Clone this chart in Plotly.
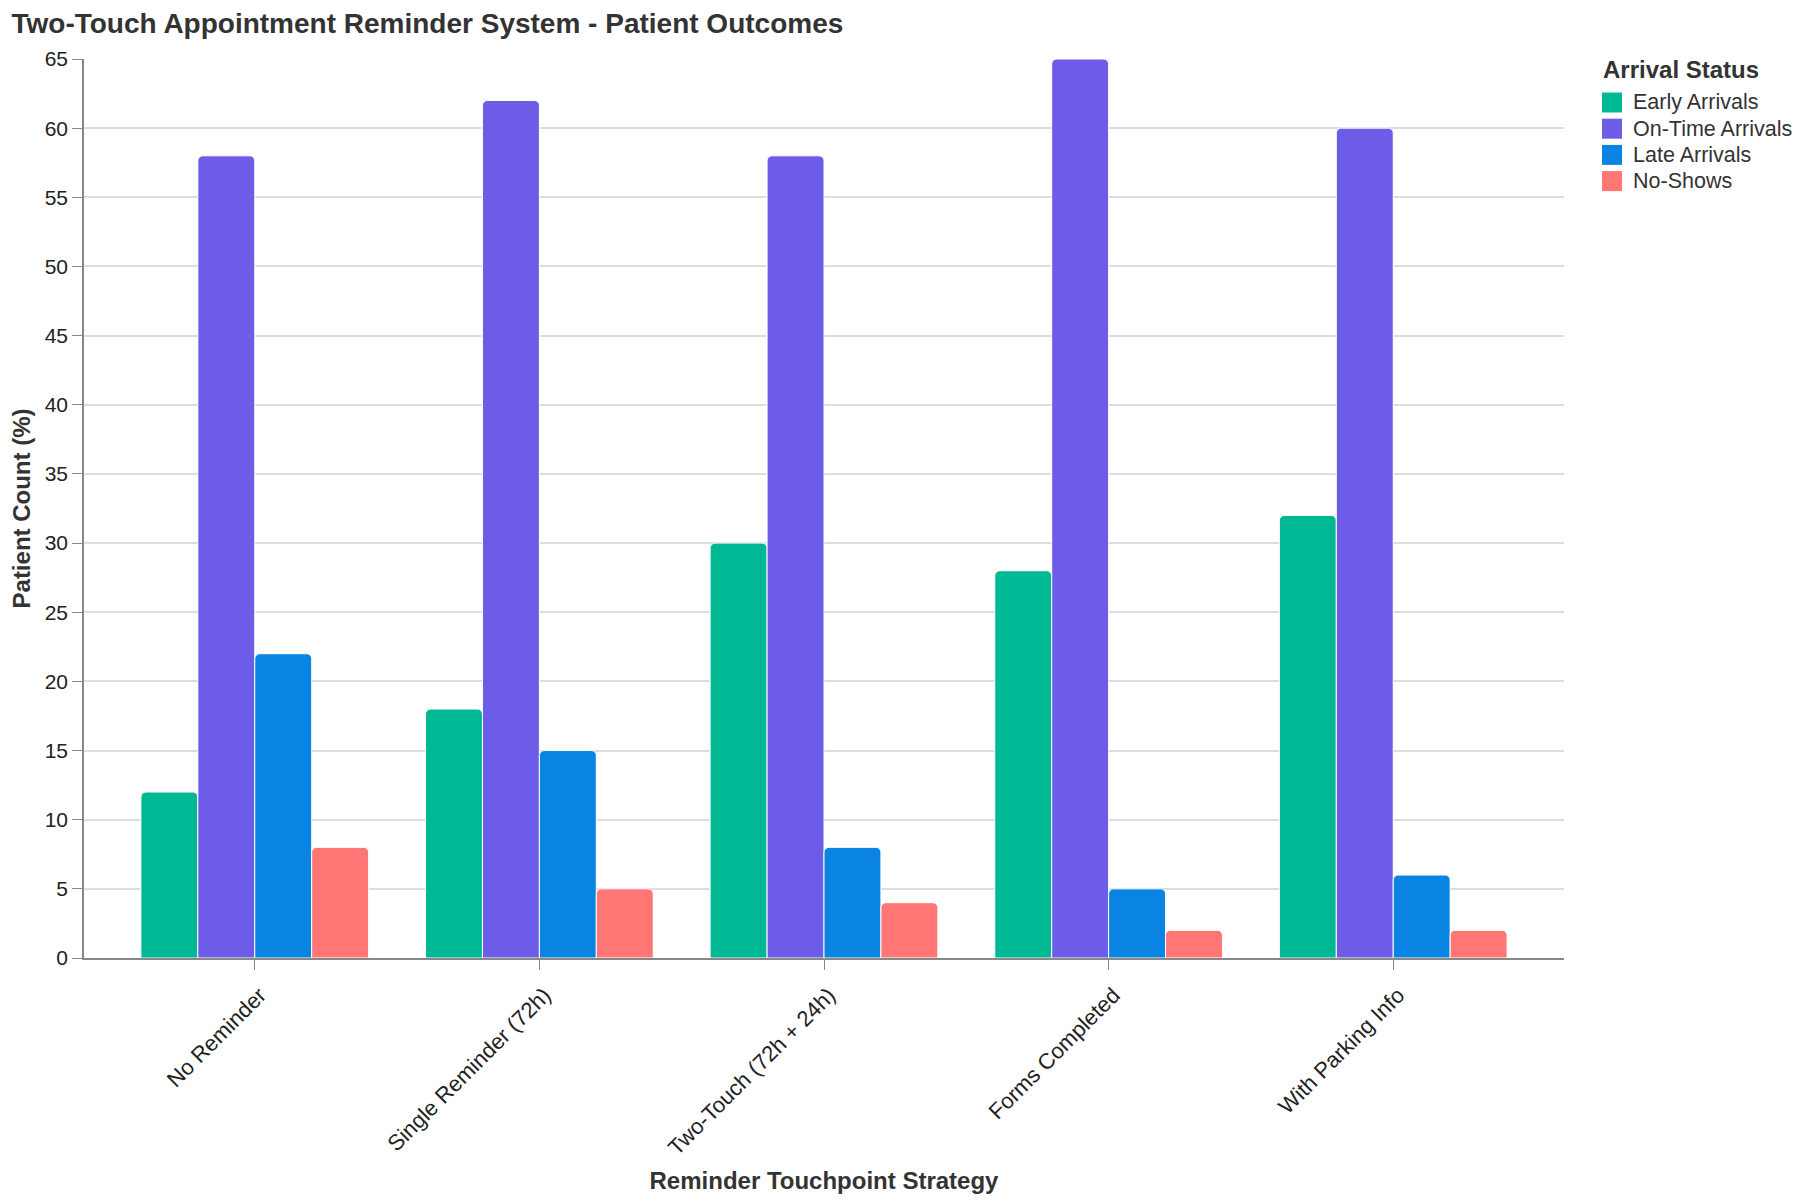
import plotly.graph_objects as go

strategies = [
    "No Reminder",
    "Single Reminder (72h)",
    "Two-Touch (72h + 24h)",
    "Forms Completed",
    "With Parking Info",
]
statuses = ["Early Arrivals", "On-Time Arrivals", "Late Arrivals", "No-Shows"]
early = [12, 18, 30, 28, 32]
on_time = [58, 62, 58, 65, 60]
late = [22, 15, 8, 5, 6]
no_shows = [8, 5, 4, 2, 2]
y_ticks = list(range(0, 70, 5))

colors = ["#00b894", "#6c5ce7", "#0984e3", "#ff7675"]
series = [early, on_time, late, no_shows]

font = "Liberation Sans, Arial, sans-serif"

# plot area in pixels (page has an 8px body margin, so shift everything back)
W, H = 1806, 1204
ML, MT, PW, PH = 76, 51, 1480, 899


def px_x(p):
    return (p - ML) / PW


def px_y(p):
    return 1 - (p - MT) / PH


fig = go.Figure()

for name, vals, col in zip(statuses, series, colors):
    fig.add_trace(
        go.Bar(
            x=strategies,
            y=vals,
            name=name,
            marker=dict(color=col, line=dict(color="white", width=1)),
            showlegend=False,
        )
    )

# hand-made legend so the swatches and row spacing match
shapes = []
annotations = [
    dict(
        text="<b>Arrival Status</b>",
        xref="paper", yref="paper",
        x=px_x(1593), y=px_y(61),
        xanchor="left", yanchor="middle",
        showarrow=False,
        font=dict(family=font, size=24, color="#333"),
    )
]
for i, (name, col) in enumerate(zip(statuses, colors)):
    cy = px_y(94.5 + i * 26.2)
    shapes.append(
        dict(
            type="rect",
            xref="paper", yref="paper",
            xsizemode="pixel", ysizemode="pixel",
            xanchor=px_x(1594), yanchor=cy,
            x0=0, x1=20, y0=-10, y1=10,
            fillcolor=col,
            line=dict(width=0),
        )
    )
    annotations.append(
        dict(
            text=name,
            xref="paper", yref="paper",
            x=px_x(1623), y=cy,
            xanchor="left", yanchor="middle",
            showarrow=False,
            font=dict(family=font, size=21.5, color="#333"),
        )
    )

fig.update_layout(
    width=W,
    height=H,
    margin=dict(l=ML, r=W - ML - PW, t=MT, b=H - MT - PH),
    paper_bgcolor="white",
    plot_bgcolor="white",
    barmode="group",
    bargap=0.2,
    bargroupgap=0,
    barcornerradius=5,
    showlegend=False,
    shapes=shapes,
    annotations=annotations,
    font=dict(family=font, size=21, color="#222"),
    title=dict(
        text="<b>Two-Touch Appointment Reminder System - Patient Outcomes</b>",
        x=3.5 / W,
        xanchor="left",
        xref="container",
        y=1 - 15 / H,
        yanchor="middle",
        yref="container",
        font=dict(family=font, size=28, color="#333"),
    ),
    xaxis=dict(
        title=dict(
            text="<b>Reminder Touchpoint Strategy</b>",
            font=dict(family=font, size=24, color="#333"),
            standoff=13,
        ),
        automargin=False,
        range=[-0.6, 4.6],
        tickangle=-45,
        ticks="outside",
        ticklen=10,
        tickcolor="#888",
        ticklabelshift=5,
        ticklabelstandoff=4,
        showline=True,
        linecolor="#888",
        linewidth=1.5,
        showgrid=False,
        tickfont=dict(family=font, size=22, color="#222"),
    ),
    yaxis=dict(
        title=dict(
            text="<b>Patient Count (%)</b>",
            font=dict(family=font, size=24, color="#333"),
            standoff=10,
        ),
        automargin=False,
        range=[0, 65],
        tickvals=y_ticks,
        ticks="outside",
        ticklen=10,
        tickcolor="#888",
        showline=True,
        linecolor="#888",
        linewidth=1.5,
        showgrid=True,
        gridcolor="#dddddd",
        gridwidth=1.5,
        zeroline=False,
        tickfont=dict(family=font, size=21, color="#222"),
    ),
)

fig.write_html("out.html")
